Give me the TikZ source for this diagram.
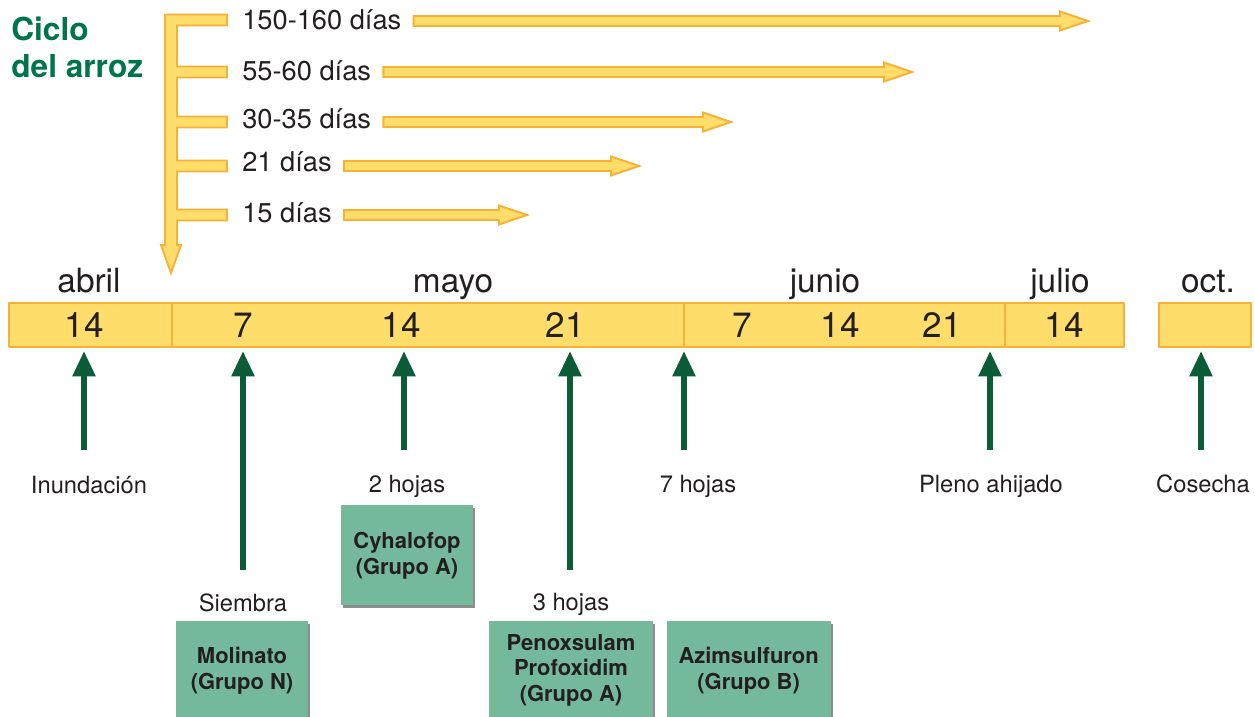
\documentclass[tikz,border=0pt]{standalone}
\usepackage{fontspec}
\setmainfont{TeX Gyre Heros}
\usetikzlibrary{arrows.meta,calc,positioning,shadows}
\definecolor{ciclogreen}{HTML}{00744A}
\definecolor{barfill}{HTML}{FFDD6A}
\definecolor{barline}{HTML}{F8B134}
\definecolor{herbfill}{HTML}{74B99C}
\definecolor{arrowgreen}{HTML}{0B5C37}
\definecolor{ink}{HTML}{231F20}
\tikzset{
  yband/.style={fill=barfill,draw=barline,line width=1.1pt,line join=miter},
  bcell/.style={fill=barfill,draw=barline,line width=1.1pt},
  dias/.style={anchor=west,inner sep=0pt,text=ink,font=\fontsize{15.5}{18}\selectfont},
  dia/.style={anchor=base,text=ink,font=\fontsize{20}{24}\selectfont},
  mes/.style={anchor=base,text=ink,font=\fontsize{19}{23}\selectfont},
  evento/.style={anchor=base,text=ink,font=\fontsize{13.5}{16}\selectfont},
  garrow/.style={draw=arrowgreen,line width=3.3pt,-{Triangle[length=14.5pt,width=12.5pt]}},
  herb/.style={fill=herbfill,align=center,text=ink,font=\bfseries\fontsize{12.5}{14.7}\selectfont,
    drop shadow={shadow xshift=1.4pt,shadow yshift=-1.4pt,fill=black,opacity=0.45}}
}
\begin{document}
\begin{tikzpicture}[x=0.02cm,y=-0.02cm,line join=round,>=Stealth]
\useasboundingbox (0,0) rectangle (1255,717);
% title
\node[anchor=north west,align=left,inner sep=0pt,text=ciclogreen,
  font=\bfseries\fontsize{18}{21}\selectfont] (titulo) at (11,17) {Ciclo\\del arroz};
% comb with downward arrow
\draw[yband] (165,14.5) -- (227,14.5) -- (227,25.5) -- (177,25.5)
  \foreach \y in {72,122,166,215} { -- (177,\y-5.5) -- (227,\y-5.5) -- (227,\y+5.5) -- (177,\y+5.5) }
  -- (177,245) -- (181,245) -- (171,273) -- (161,245) -- (165,245) -- cycle;
% duration arrows
\foreach \ly/\y/\tx/\t [count=\i] in {20/21/1088/150-160 días,71/72/912/55-60 días,
    119/122/731/30-35 días,162/166/639/21 días,213/215/527/15 días} {
  \node[dias] (d\i) at (242,\ly) {\t};
  \draw[yband] ($(d\i.east |- 0,\y)+(12,-5)$) -- (\tx-28,\y-5) -- (\tx-28,\y-9.5) -- (\tx,\y)
    -- (\tx-28,\y+9.5) -- (\tx-28,\y+5) -- ($(d\i.east |- 0,\y)+(12,5)$) -- cycle;
}
% calendar bar
\foreach \a/\b in {9/172,172/684,684/1005,1005/1124,1159/1251}
  \draw[bcell] (\a,303) rectangle (\b,347);
\foreach \x/\n [count=\i] in {84/14,243/7,401/14,565/21,742/7,840/14,942/21,1064/14}
  \node[dia] (n\i) at (\x,337) {\n};
\foreach \x/\m [count=\i] in {89/abril,453/mayo,825/junio,1060/julio,1208/oct.}
  \node[mes] (m\i) at (\x,292) {\m};
% events
\foreach \x/\yb [count=\i] in {84/450,243/570,404/450,570/570,684/450,990/450,1201/450} {
  \coordinate (p\i) at (\x,\yb);
  \coordinate (q\i) at (\x,351);
  \draw[garrow] (p\i) -- (q\i);
}
\foreach \x/\y/\t [count=\i] in {89/493/Inundación,243/611/Siembra,407/492/2 hojas,
    571/610/3 hojas,698/492/7 hojas,991/492/Pleno ahijado,1203/492/Cosecha}
  \node[evento] (e\i) at (\x,\y) {\t};
% herbicides
\node[herb,minimum width=2.64cm,minimum height=2cm,anchor=north] (cyha) at (407,505) {Cyhalofop\\(Grupo A)};
\node[herb,minimum width=2.64cm,minimum height=1.96cm,anchor=north] (moli) at (242,621) {Molinato\\(Grupo N)};
\node[herb,minimum width=3.28cm,minimum height=1.96cm,anchor=north] (peno) at (571,621) {Penoxsulam\\Profoxidim\\(Grupo A)};
\node[herb,minimum width=3.28cm,minimum height=1.96cm,right=0.26cm of peno] (azim) {Azimsulfuron\\(Grupo B)};
\end{tikzpicture}
\end{document}
